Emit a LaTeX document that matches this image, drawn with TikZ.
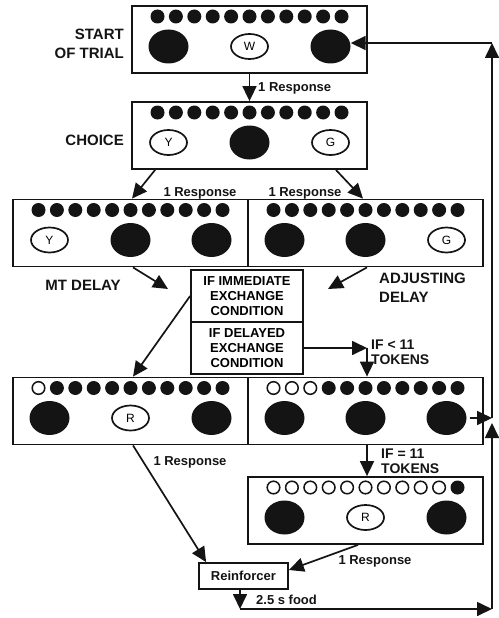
\documentclass[tikz,border=0pt]{standalone}
\usepackage{fontspec}
\setmainfont{Liberation Sans}
\usepackage{tikz}
\usetikzlibrary{calc,positioning,arrows.meta,shapes.geometric}
\definecolor{inkblack}{HTML}{141414}

\begin{document}
\begin{tikzpicture}[x=1pt, y=-1pt,
    panel/.style={draw=inkblack, line width=1.8pt, minimum width=235pt, minimum height=67pt, inner sep=0pt},
    darkkey/.style={ellipse, fill=inkblack, minimum width=40pt, minimum height=34pt, inner sep=0pt},
    openkey/.style={ellipse, draw=inkblack, line width=1.7pt, fill=white, minimum width=37pt, minimum height=25pt, inner sep=0pt, font=\fontsize{12}{13}\selectfont},
    flow/.style={draw=inkblack, line width=1.7pt, -{Triangle[length=15pt,width=14pt]}},
    sidelabel/.style={font=\fontsize{15}{19}\selectfont\bfseries, text=inkblack, inner sep=0pt},
    steplabel/.style={font=\fontsize{13}{15}\selectfont\bfseries, text=inkblack, inner sep=0pt},
    condbox/.style={draw=inkblack, line width=1.8pt, minimum width=112pt, minimum height=52pt, inner sep=0pt, align=center, font=\fontsize{13}{15}\selectfont\bfseries}]
    \useasboundingbox (0,0) rectangle (498,618);

    % Start of trial
    \node[panel] (start) at (249.5,39.5) {};
    \foreach \i in {0,...,10}
        \fill[inkblack] ($(start.center)+(-92+18.4*\i,-23)$) circle (7pt);
    \node[darkkey] (start-l) at ($(start.center)+(-81,7)$) {};
    \node[openkey] (start-m) at ($(start.center)+(0,7)$) {W};
    \node[darkkey] (start-r) at ($(start.center)+(81,7)$) {};
    \node[sidelabel, anchor=east, align=right] (start-lab) at (124,43.5) {START\\OF TRIAL};

    % Choice
    \node[panel] (choice) at (249.5,135.5) {};
    \foreach \i in {0,...,10}
        \fill[inkblack] ($(choice.center)+(-92+18.4*\i,-23)$) circle (7pt);
    \node[openkey] (choice-l) at ($(choice.center)+(-81,7)$) {Y};
    \node[darkkey] (choice-m) at ($(choice.center)+(0,7)$) {};
    \node[openkey] (choice-r) at ($(choice.center)+(81,7)$) {G};
    \node[sidelabel, anchor=east] (choice-lab) at (124,140) {CHOICE};

    % Delays (left: MT, right: adjusting)
    \node[panel] (mtd) at (130.5,233) {};
    \node[panel] (adj) at (365.5,233) {};
    \foreach \i in {0,...,10} {
        \fill[inkblack] ($(mtd.center)+(-92+18.4*\i,-23)$) circle (7pt);
        \fill[inkblack] ($(adj.center)+(-92+18.4*\i,-23)$) circle (7pt);
    }
    \node[openkey] (mtd-l) at ($(mtd.center)+(-81,7)$) {Y};
    \node[darkkey] (mtd-m) at ($(mtd.center)+(0,7)$) {};
    \node[darkkey] (mtd-r) at ($(mtd.center)+(81,7)$) {};
    \node[darkkey] (adj-l) at ($(adj.center)+(-81,7)$) {};
    \node[darkkey] (adj-m) at ($(adj.center)+(0,7)$) {};
    \node[openkey] (adj-r) at ($(adj.center)+(81,7)$) {G};
    \node[sidelabel] (mtd-lab) at (83,285) {MT DELAY};
    \node[sidelabel, anchor=west, align=left] (adj-lab) at (379,288) {ADJUSTING\\DELAY};
    \coordinate (mt-tip) at (168,289);
    \coordinate (adj-tip) at (328,289);

    % Exchange conditions
    \node[condbox] (imm) at (247,296) {IF IMMEDIATE\\EXCHANGE\\CONDITION};
    \node[condbox] (del) at (247,348) {IF DELAYED\\EXCHANGE\\CONDITION};
    \coordinate (lt-bend) at (367,348);
    \node[steplabel, anchor=west, align=left, font=\fontsize{14}{15}\selectfont\bfseries] (lt-lab) at (371,352) {IF < 11\\TOKENS};

    % Token panels
    \node[panel] (imx) at (130.5,411) {};
    \node[panel] (dlx) at (365.5,411) {};
    \foreach \i in {0} {
        \draw[inkblack, line width=1.5pt, fill=white] ($(imx.center)+(-92+18.4*\i,-23)$) circle (6.3pt);
    }
    \foreach \i in {1,...,10} {
        \fill[inkblack] ($(imx.center)+(-92+18.4*\i,-23)$) circle (7pt);
    }
    \foreach \i in {0,1,2} {
        \draw[inkblack, line width=1.5pt, fill=white] ($(dlx.center)+(-92+18.4*\i,-23)$) circle (6.3pt);
    }
    \foreach \i in {3,...,10} {
        \fill[inkblack] ($(dlx.center)+(-92+18.4*\i,-23)$) circle (7pt);
    }
    \node[darkkey] (imx-l) at ($(imx.center)+(-81,7)$) {};
    \node[openkey] (imx-m) at ($(imx.center)+(0,7)$) {R};
    \node[darkkey] (imx-r) at ($(imx.center)+(81,7)$) {};
    \node[darkkey] (dlx-l) at ($(dlx.center)+(-81,7)$) {};
    \node[darkkey] (dlx-m) at ($(dlx.center)+(0,7)$) {};
    \node[darkkey] (dlx-r) at ($(dlx.center)+(81,7)$) {};
    \node[steplabel, anchor=west, align=left, font=\fontsize{14}{15}\selectfont\bfseries] (eq-lab) at (381,461) {IF = 11\\TOKENS};

    % Full token panel
    \node[panel] (full) at (365.5,510.5) {};
    \foreach \i in {0,...,9}
        \draw[inkblack, line width=1.5pt, fill=white] ($(full.center)+(-92+18.4*\i,-23)$) circle (6.3pt);
    \fill[inkblack] ($(full.center)+(92,-23)$) circle (7pt);
    \node[darkkey] (full-l) at ($(full.center)+(-81,7)$) {};
    \node[openkey] (full-m) at ($(full.center)+(0,7)$) {R};
    \node[darkkey] (full-r) at ($(full.center)+(81,7)$) {};

    % Reinforcer
    \node[draw=inkblack, line width=1.8pt, minimum width=89pt, minimum height=26pt, inner sep=0pt, steplabel] (reinf) at (243.5,576) {Reinforcer};
    \coordinate (loop-a) at (240,609);
    \coordinate (loop-b) at (492,609);
    \coordinate (loop-c) at (492,423);
    \coordinate (loop-d) at (492,43);

    % Response labels
    \node[steplabel, anchor=west] (r1) at (258,88) {1 Response};
    \node[steplabel] (r2) at (200,193) {1 Response};
    \node[steplabel] (r3) at (305,193) {1 Response};
    \node[steplabel] (r4) at (190,462) {1 Response};
    \node[steplabel] (r5) at (375,561) {1 Response};
    \node[steplabel, anchor=west] (food-lab) at (256,600) {2.5 s food};

    % Connectors
    \draw[flow] (start.south) -- (choice.north);
    \draw[flow] ($(choice.south west)+(24,0)$) -- ($(mtd.north)+(1.5,0)$);
    \draw[flow] ($(choice.south east)+(-32,0)$) -- ($(adj.north)+(-2.5,0)$);
    \draw[flow] ($(mtd.south)+(2.5,0)$) -- (mt-tip);
    \draw[flow] ($(adj.south)+(1.5,0)$) -- (adj-tip);
    \draw[flow] (imm.west) -- ($(imx.north)+(2.5,0)$);
    \draw[flow] (del.east) -- (lt-bend);
    \draw[flow] (lt-bend) -- (lt-bend |- dlx.north);
    \draw[flow] ($(imx.south)+(2.5,0)$) -- ($(reinf.north west)+(8,0)$);
    \draw[flow] ($(dlx.south)+(1.5,0)$) -- ($(full.north)+(1.5,0)$);
    \draw[flow] ($(full.south)+(-7.5,0)$) -- ($(reinf.east)+(0,-6)$);
    \draw[flow] ($(reinf.south)+(-3.5,0)$) -- (loop-a);
    \draw[flow] (loop-a) -- (loop-b);
    \draw[flow] (loop-b) -- (loop-c);
    \draw[flow] ($(dlx-r.east)+(3,0)$) -- (loop-c |- dlx-r.east);
    \draw[flow] (loop-c |- dlx-r.east) -- (loop-d);
    \draw[flow] (loop-d) -- (loop-d -| start-r.east);
\end{tikzpicture}
\end{document}
